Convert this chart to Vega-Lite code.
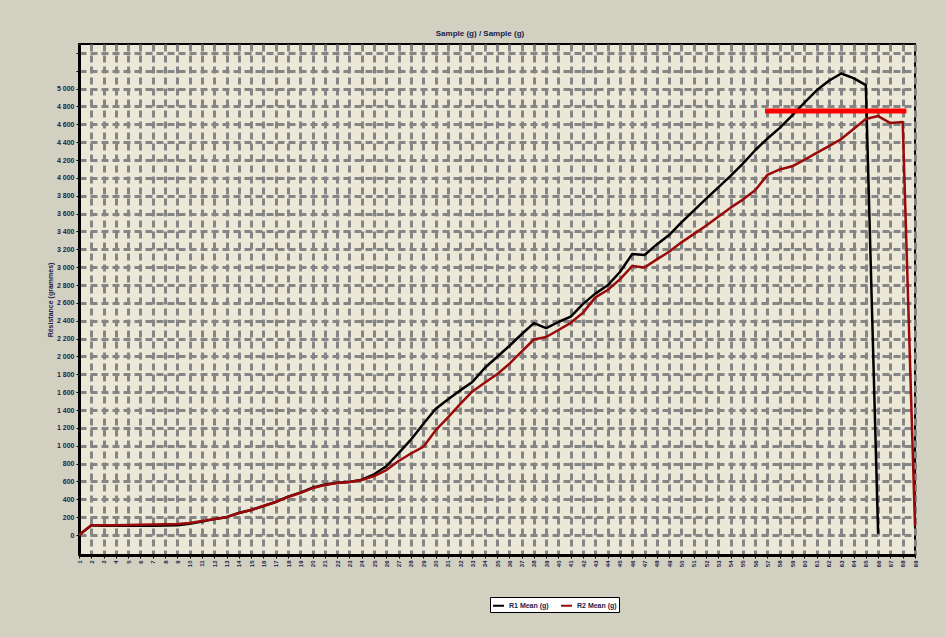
{
  "$schema": "https://vega.github.io/schema/vega-lite/v6.json",
  "width": 836,
  "height": 511,
  "autosize": {"type": "none"},
  "padding": {"left": 79, "top": 44, "right": 30, "bottom": 82},
  "background": "#d2d0c1",
  "title": {"text": "Sample (g) / Sample (g)", "fontSize": 8, "fontWeight": "bold", "color": "#1c1c4a", "font": "Liberation Sans", "offset": 6, "dx": -17},
  "config": {
    "view": {"fill": "#ebe8d8", "stroke": "#000000", "strokeWidth": 2},
    "font": "Liberation Sans"
  },
  "layer": [
    {
      "data": {
        "values": [
          {"n": 1, "R1": 0, "R2": 0},
          {"n": 2, "R1": 108, "R2": 110},
          {"n": 3, "R1": 105, "R2": 110},
          {"n": 4, "R1": 105, "R2": 110},
          {"n": 5, "R1": 105, "R2": 112},
          {"n": 6, "R1": 105, "R2": 115},
          {"n": 7, "R1": 105, "R2": 118},
          {"n": 8, "R1": 106, "R2": 120},
          {"n": 9, "R1": 110, "R2": 123},
          {"n": 10, "R1": 125, "R2": 135},
          {"n": 11, "R1": 150, "R2": 157},
          {"n": 12, "R1": 178, "R2": 180},
          {"n": 13, "R1": 200, "R2": 200},
          {"n": 14, "R1": 246, "R2": 246},
          {"n": 15, "R1": 280, "R2": 280},
          {"n": 16, "R1": 325, "R2": 325},
          {"n": 17, "R1": 370, "R2": 370},
          {"n": 18, "R1": 430, "R2": 425},
          {"n": 19, "R1": 475, "R2": 470},
          {"n": 20, "R1": 530, "R2": 526},
          {"n": 21, "R1": 565, "R2": 560},
          {"n": 22, "R1": 585, "R2": 582},
          {"n": 23, "R1": 594, "R2": 594},
          {"n": 24, "R1": 620, "R2": 616},
          {"n": 25, "R1": 680, "R2": 660},
          {"n": 26, "R1": 770, "R2": 728},
          {"n": 27, "R1": 918, "R2": 829},
          {"n": 28, "R1": 1068, "R2": 913},
          {"n": 29, "R1": 1243, "R2": 986},
          {"n": 30, "R1": 1411, "R2": 1171},
          {"n": 31, "R1": 1518, "R2": 1316},
          {"n": 32, "R1": 1620, "R2": 1465},
          {"n": 33, "R1": 1714, "R2": 1608},
          {"n": 34, "R1": 1871, "R2": 1705},
          {"n": 35, "R1": 1994, "R2": 1801},
          {"n": 36, "R1": 2117, "R2": 1917},
          {"n": 37, "R1": 2249, "R2": 2055},
          {"n": 38, "R1": 2374, "R2": 2190},
          {"n": 39, "R1": 2318, "R2": 2218},
          {"n": 40, "R1": 2386, "R2": 2296},
          {"n": 41, "R1": 2446, "R2": 2377},
          {"n": 42, "R1": 2589, "R2": 2491},
          {"n": 43, "R1": 2704, "R2": 2662},
          {"n": 44, "R1": 2797, "R2": 2744},
          {"n": 45, "R1": 2946, "R2": 2863},
          {"n": 46, "R1": 3147, "R2": 3013},
          {"n": 47, "R1": 3136, "R2": 2996},
          {"n": 48, "R1": 3255, "R2": 3087},
          {"n": 49, "R1": 3360, "R2": 3173},
          {"n": 50, "R1": 3501, "R2": 3278},
          {"n": 51, "R1": 3633, "R2": 3370},
          {"n": 52, "R1": 3766, "R2": 3465},
          {"n": 53, "R1": 3894, "R2": 3566},
          {"n": 54, "R1": 4022, "R2": 3667},
          {"n": 55, "R1": 4160, "R2": 3757},
          {"n": 56, "R1": 4310, "R2": 3862},
          {"n": 57, "R1": 4441, "R2": 4034},
          {"n": 58, "R1": 4560, "R2": 4095},
          {"n": 59, "R1": 4698, "R2": 4130},
          {"n": 60, "R1": 4842, "R2": 4203},
          {"n": 61, "R1": 4981, "R2": 4280},
          {"n": 62, "R1": 5088, "R2": 4357},
          {"n": 63, "R1": 5170, "R2": 4435},
          {"n": 64, "R1": 5118, "R2": 4547},
          {"n": 65, "R1": 5040, "R2": 4659},
          {"n": 66, "R1": 15, "R2": 4693},
          {"n": 67, "R2": 4614},
          {"n": 68, "R2": 4626},
          {"n": 69, "R2": 100}
        ]
      },
      "transform": [{"fold": ["R1", "R2"], "as": ["series", "v"]}],
      "mark": {"type": "line", "strokeWidth": 2.5, "strokeJoin": "round"},
      "encoding": {
        "x": {
          "field": "n",
          "type": "quantitative",
          "scale": {"domain": [1, 69], "nice": false, "zero": false},
          "axis": {
            "values": [1,2,3,4,5,6,7,8,9,10,11,12,13,14,15,16,17,18,19,20,21,22,23,24,25,26,27,28,29,30,31,32,33,34,35,36,37,38,39,40,41,42,43,44,45,46,47,48,49,50,51,52,53,54,55,56,57,58,59,60,61,62,63,64,65,66,67,68,69],
            "tickCount": 200,
            "format": "d",
            "title": null,
            "grid": true,
            "gridColor": "#858585",
            "gridWidth": 3,
            "gridDash": [7, 4],
            "labelAngle": -90,
            "labelAlign": "right",
            "labelBaseline": "middle",
            "labelFontSize": 6,
            "labelFontWeight": "bold",
            "labelColor": "#1c1c4a",
            "labelPadding": 2,
            "labelOverlap": false,
            "tickSize": 3,
            "tickColor": "#000000",
            "domainColor": "#000000",
            "domainWidth": 3
          }
        },
        "y": {
          "field": "v",
          "type": "quantitative",
          "scale": {"domain": [-224, 5500], "nice": false, "zero": false},
          "axis": {
            "values": [0,200,400,600,800,1000,1200,1400,1600,1800,2000,2200,2400,2600,2800,3000,3200,3400,3600,3800,4000,4200,4400,4600,4800,5000,5200,5400],
            "tickCount": 200,
            "labelExpr": "datum.value > 5000 ? '' : replace(format(datum.value, ','), ',', ' ')",
            "title": "Résistance (grammes)",
            "titleFontSize": 7,
            "titleFontWeight": "bold",
            "titleColor": "#1c1c4a",
            "titlePadding": 3,
            "grid": true,
            "gridColor": "#858585",
            "gridWidth": 3,
            "gridDash": [7, 4],
            "labelFontSize": 7,
            "labelFontWeight": "bold",
            "labelColor": "#1c1c4a",
            "labelPadding": 2,
            "labelOverlap": false,
            "tickSize": 3,
            "tickColor": "#000000",
            "domainColor": "#000000",
            "domainWidth": 3
          }
        },
        "color": {
          "field": "series",
          "type": "nominal",
          "scale": {"domain": ["R1", "R2"], "range": ["#000000", "#9b0a0a"]},
          "legend": {
            "orient": "none",
            "legendX": 411,
            "legendY": 553,
            "direction": "horizontal",
            "title": null,
            "fillColor": "#ffffff",
            "strokeColor": "#000000",
            "padding": 2,
            "symbolType": "stroke",
            "symbolStrokeWidth": 2,
            "symbolSize": 120,
            "labelFontSize": 7,
            "labelFontWeight": "bold",
            "labelColor": "#1c1c4a",
            "columnPadding": 8,
            "labelExpr": "datum.label + ' Mean (g)'"
          }
        }
      }
    },
    {
      "data": {"values": [{"a": 56.8, "b": 68.3, "v": 4750}]},
      "mark": {"type": "rule", "color": "#ff0000", "strokeWidth": 5},
      "encoding": {
        "x": {"field": "a", "type": "quantitative"},
        "x2": {"field": "b"},
        "y": {"field": "v", "type": "quantitative"}
      }
    }
  ]
}
